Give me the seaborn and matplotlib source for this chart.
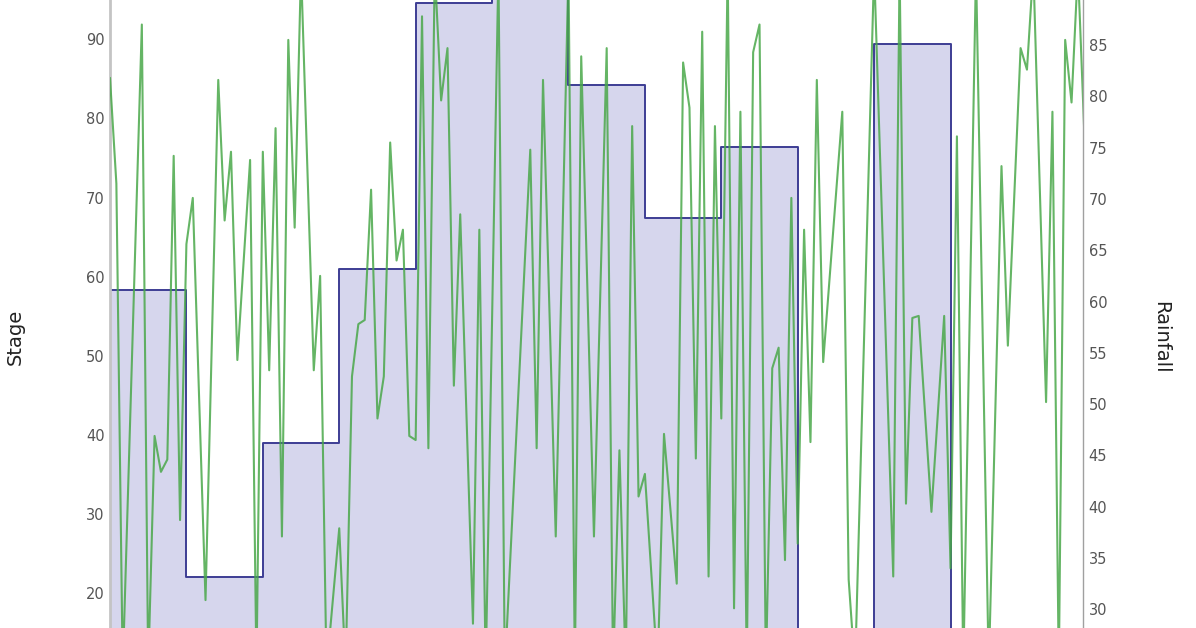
import numpy as np
import pandas as pd
import matplotlib
matplotlib.use('Agg')
import matplotlib.pyplot as plt
import seaborn as sns

# Stage per period (12 samples each)
period_start = [0, 12, 24, 36, 48, 60, 72, 84, 96, 108, 120, 132, 144]
stage = [58.3, 22.0, 39.0, 61.0, 94.6, 98.0, 84.2, 67.4, 76.4, 12.0, 89.4, 10.0, 14.0]
x_end = 152.8

# Rainfall samples (sample index, value)
rain_idx = [0, 1, 2, 5, 6, 7, 8, 9, 10, 11, 12, 13, 15, 17, 18, 19, 20, 22, 23, 24,
            25, 26, 27, 28, 29, 30, 32, 33, 34, 36, 37, 38, 39, 40, 41, 42, 43, 44, 45, 46,
            47, 48, 49, 50, 51, 52, 53, 54, 55, 57, 58, 59, 61, 62, 66, 67, 68, 70, 72, 73,
            74, 76, 78, 79, 80, 81, 82, 83, 84, 86, 87, 89, 90, 91, 92, 93, 94, 95, 96, 97,
            98, 99, 100, 101, 102, 103, 104, 105, 106, 107, 108, 109, 110, 111, 112, 115, 116, 117, 120, 123,
            124, 125, 126, 127, 129, 131, 132, 133, 134, 136, 138, 140, 141, 143, 144, 145, 147, 148, 149, 150,
            151, 152, 153]
rainfall = [81.8, 71.5, 24.0, 87.0, 24.0, 46.9, 43.4, 44.6, 74.2, 38.7, 65.6, 70.1, 30.9, 81.6, 67.9, 74.6, 54.3, 73.8, 24.0, 74.6,
            53.3, 76.9, 37.1, 85.5, 67.2, 92.5, 53.3, 62.5, 24.0, 37.9, 24.0, 52.7, 57.8, 58.2, 70.9, 48.6, 52.7, 75.5, 64.0, 67.0,
            46.9, 46.5, 87.8, 45.7, 92.5, 79.6, 84.7, 51.8, 68.5, 28.6, 67.0, 24.0, 92.5, 24.0, 74.8, 45.7, 81.6, 37.1, 92.5, 24.0,
            83.9, 37.1, 84.7, 24.0, 45.5, 24.0, 77.1, 41.0, 43.2, 24.0, 47.1, 32.5, 83.3, 78.9, 44.7, 86.3, 33.2, 77.1, 48.6, 92.5,
            30.1, 78.5, 24.0, 84.3, 87.0, 24.0, 53.5, 55.5, 34.8, 70.1, 36.4, 67.0, 46.3, 81.6, 54.1, 78.5, 32.9, 24.0, 92.5, 33.2,
            92.5, 40.3, 58.4, 58.6, 39.5, 58.6, 34.0, 76.1, 24.0, 92.5, 24.0, 73.2, 55.7, 84.7, 82.6, 92.5, 50.2, 78.5, 24.0, 85.5,
            79.4, 92.5, 76.5]

stage_df = pd.DataFrame({'x': period_start + [x_end], 'stage': stage + [stage[-1]]})
rain_df = pd.DataFrame({'x': rain_idx, 'rainfall': rainfall})

sns.set_style('white')
plt.rcParams['font.family'] = ['DejaVu Sans']

fig = plt.figure(figsize=(11.96, 6.28), dpi=100)
ax = fig.add_axes([110 / 1196, 0, 973 / 1196, 1])

# step area for stage
ax.fill_between(stage_df['x'], 0, stage_df['stage'], step='post', color='#d6d6ed', linewidth=0)
sns.lineplot(data=stage_df, x='x', y='stage', drawstyle='steps-post', color='#3d3d94',
             linewidth=1.4, ax=ax, estimator=None)
ax.set_xlim(0, x_end)
ax.set_ylim(15.61, 94.97)
ax.set_yticks(range(20, 100, 10))
ax.set_xticks([])
ax.set_xlabel('')
ax.set_ylabel('Stage', fontsize=14, color='#222222')
ax.yaxis.set_label_coords(-0.0874, 0.463)

# rainfall on the right axis
ax2 = ax.twinx()
sns.lineplot(data=rain_df, x='x', y='rainfall', color='#4aa84a', linewidth=1.5, alpha=0.85,
             ax=ax2, sort=False, estimator=None)
ax2.set_ylim(28.18, 89.39)
ax2.set_yticks(range(30, 90, 5))
ax2.set_xlim(0, x_end)
ax2.set_ylabel('Rainfall', fontsize=14, color='#222222', rotation=270)
ax2.yaxis.set_label_coords(1.0894, 0.463)

for a in (ax, ax2):
    a.tick_params(axis='y', length=0, labelsize=10.5, labelcolor='#555555', pad=4)
    a.spines['top'].set_visible(False)
    a.spines['bottom'].set_visible(False)
    a.spines['left'].set_visible(False)
    a.spines['right'].set_visible(False)
    a.patch.set_alpha(0)

ax.spines['left'].set_visible(True)
ax.spines['left'].set_color('#c4c4c4')
ax.spines['left'].set_linewidth(2)
ax2.spines['right'].set_visible(True)
ax2.spines['right'].set_color('#a0a0a0')
ax2.spines['right'].set_linewidth(1)

fig.savefig('out.png', dpi=100)
